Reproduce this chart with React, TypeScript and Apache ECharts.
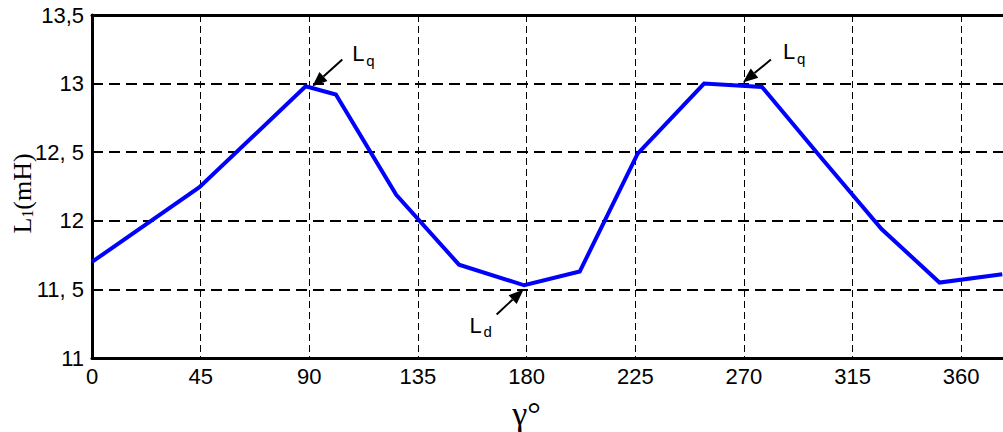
import React, { useEffect, useRef } from "react";
import * as echarts from "echarts";

// Rotor angle (degrees) and phase inductance (mH)
const angles = [0, 44.5, 88.5, 101, 126, 152, 179, 202, 226, 253.5, 277.5, 302, 327, 351, 377];
const inductance = [11.7, 12.245, 12.98, 12.92, 12.19, 11.68, 11.53, 11.63, 12.49, 13.0, 12.975, 12.46, 11.94, 11.55, 11.61];

const yTickValues = [11, 11.5, 12, 12.5, 13, 13.5];
const yTickLabels = ["11", "11, 5", "12", "12, 5", "13", "13,5"];

// annotation labels and the (angle, inductance) they point to
const noteMain = ["L", "L", "L"];
const noteSub = ["q", "d", "q"];
const noteAngle = [90, 180, 270];
const noteValue = [13, 11.5, 13];

const X_MAX = 377.3;

export default function App() {
  const ref = useRef<HTMLDivElement>(null);
  useEffect(() => {
    const chart = echarts.init(ref.current!, null, { renderer: "svg" });
    const axisFont = { fontFamily: "Liberation Sans", fontSize: 22, color: "#000" };
    chart.setOption({
      animation: false,
      backgroundColor: "#fff",
      grid: { left: 92, right: 0, top: 15, bottom: 74, containLabel: false, outerBoundsMode: "none" },
      xAxis: [
        {
          type: "value",
          min: 0,
          max: X_MAX,
          interval: 45,
          name: "γ°",
          nameLocation: "middle",
          nameGap: 38,
          nameMoveOverlap: false,
          nameTextStyle: { fontFamily: "Liberation Serif", fontSize: 34, color: "#000", padding: [0, 42, 0, 0] },
          axisLine: { onZero: false, lineStyle: { color: "#000", width: 3 } },
          axisTick: { show: false },
          axisLabel: { ...axisFont, margin: 7, showMaxLabel: false },
          splitLine: { show: true, lineStyle: { color: "#000", width: 1, type: [7, 4] } },
        },
        {
          type: "value",
          min: 0,
          max: X_MAX,
          position: "top",
          axisLine: { show: true, onZero: false, lineStyle: { color: "#000", width: 3 } },
          axisTick: { show: false },
          axisLabel: { show: false },
          splitLine: { show: false },
        },
      ],
      yAxis: {
        type: "value",
        min: 11,
        max: 13.5,
        interval: 0.5,
        name: "{l|L}{s|1}{l|(mH)}",
        nameLocation: "middle",
        nameGap: 57,
        nameMoveOverlap: false,
        nameTextStyle: {
          color: "#000",
          padding: [0, 14, 0, 0],
          rich: {
            l: { fontFamily: "Liberation Serif", fontSize: 26, color: "#000" },
            s: { fontFamily: "Liberation Serif", fontSize: 16, color: "#000", verticalAlign: "bottom" },
          },
        },
        axisLine: { show: true, lineStyle: { color: "#000", width: 3 } },
        axisTick: { show: false },
        axisLabel: {
          ...axisFont,
          margin: 8,
          formatter: (v: number) => {
            const i = yTickValues.findIndex((t) => Math.abs(t - v) < 1e-6);
            return i >= 0 ? yTickLabels[i] : "";
          },
        },
        splitLine: { show: true, lineStyle: { color: "#000", width: 2, type: [11, 6] } },
      },
      series: [
        {
          type: "line",
          data: angles.map((a, i) => [a, inductance[i]]),
          symbol: "none",
          lineStyle: { color: "#0000ff", width: 4, join: "miter" },
          z: 5,
        },
      ],
    });

    // annotation layout (pixel offsets from the pointed-at grid crossing)
    const layout = [
      { tip: [3, 3], tail: [33, -24], text: [43, -37] },
      { tip: [-3, 0], tail: [-30, 25], text: [-57, 29] },
      { tip: [-1, -1], tail: [27, -24], text: [39, -39] },
    ];
    const graphics: any[] = [];
    noteMain.forEach((m, i) => {
      const p = chart.convertToPixel({ xAxisIndex: 0, yAxisIndex: 0 }, [noteAngle[i], noteValue[i]]) as number[];
      const L = layout[i];
      const tip = [p[0] + L.tip[0], p[1] + L.tip[1]];
      const tail = [p[0] + L.tail[0], p[1] + L.tail[1]];
      const dx = tip[0] - tail[0];
      const dy = tip[1] - tail[1];
      const len = Math.hypot(dx, dy);
      const ux = dx / len, uy = dy / len;
      const hl = 15, hw = 6;
      const base = [tip[0] - ux * hl, tip[1] - uy * hl];
      graphics.push({
        type: "line",
        shape: { x1: tail[0], y1: tail[1], x2: base[0], y2: base[1] },
        style: { stroke: "#000", lineWidth: 2 },
        z: 10,
      });
      graphics.push({
        type: "polygon",
        shape: {
          points: [
            tip,
            [base[0] - uy * hw, base[1] + ux * hw],
            [base[0] + uy * hw, base[1] - ux * hw],
          ],
        },
        style: { fill: "#000" },
        z: 10,
      });
      const tx = p[0] + L.text[0];
      const ty = p[1] + L.text[1];
      graphics.push({
        type: "text",
        x: tx,
        y: ty - 4,
        style: { text: m, fontFamily: "Liberation Sans", fontSize: 22, fill: "#000", verticalAlign: "top", align: "left" },
        z: 10,
      });
      graphics.push({
        type: "text",
        x: tx + 14,
        y: ty + 6,
        style: { text: noteSub[i], fontFamily: "Liberation Sans", fontSize: 15, fill: "#000", verticalAlign: "top", align: "left" },
        z: 10,
      });
    });
    chart.setOption({ graphic: graphics });

    return () => chart.dispose();
  }, []);
  return <div ref={ref} style={{ position: "fixed", left: 0, top: 0, width: 1003, height: 432, background: "#fff" }} />;
}
